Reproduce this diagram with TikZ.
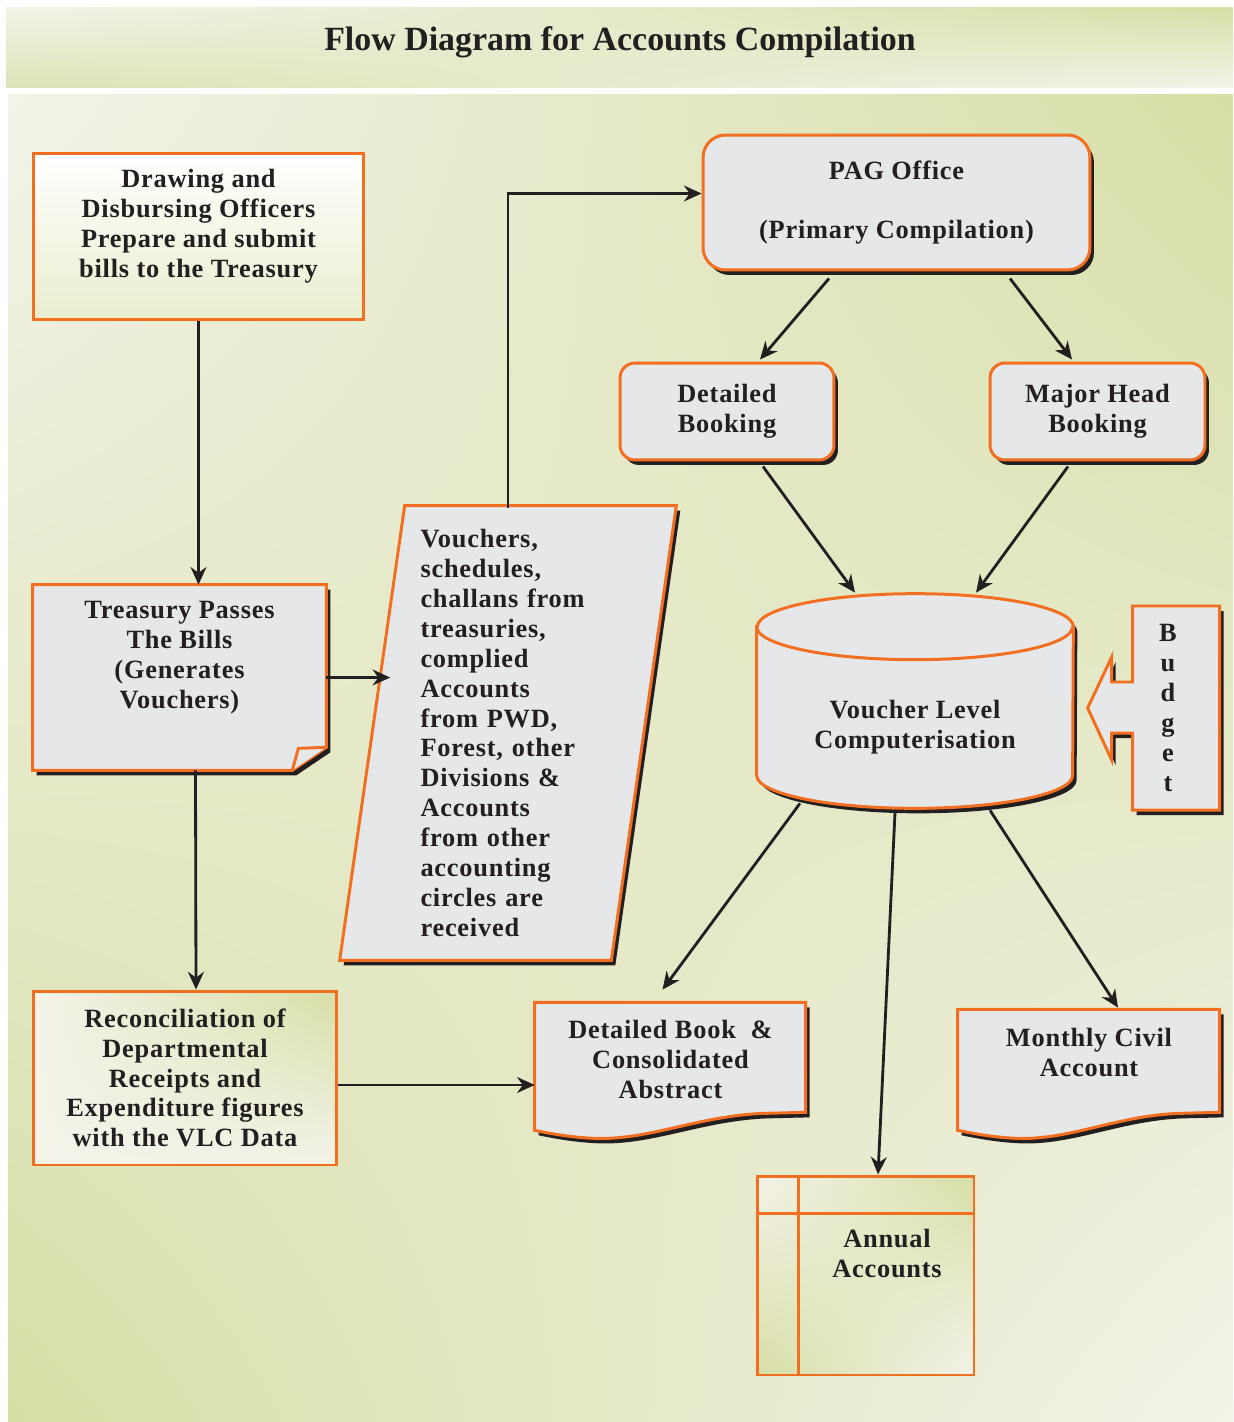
\documentclass[tikz,border=0pt]{standalone}
\usepackage{fontspec}
\setmainfont{Liberation Serif}
\newfontfamily\boxfont{Liberation Serif}[LetterSpace=3]
\usetikzlibrary{arrows.meta,calc,shadows,shadings,positioning}

\definecolor{orng}{HTML}{F26F22}
\definecolor{boxgray}{HTML}{E6E7E8}
\definecolor{ink}{HTML}{231F20}
\definecolor{cream}{HTML}{F3F3E9}
\definecolor{sage}{HTML}{D7DFA6}

\pgfdeclarelayer{panel}
\pgfdeclarelayer{shapes}
\pgfsetlayers{panel,shapes,main}

\begin{document}
\begin{tikzpicture}[x=0.02cm,y=-0.02cm,>={Stealth[length=10pt,width=9pt]},
  every node/.style={font=\boxfont\bfseries\fontsize{15}{17}\selectfont,text=ink,align=center},
  wh/.style 2 args={minimum width=#1cm,minimum height=#2cm,inner sep=2pt},
  shadowed/.style={drop shadow={shadow xshift=0.08cm,shadow yshift=-0.1cm,fill=ink,opacity=1}},
  box/.style={draw=orng,line width=1.7pt,fill=boxgray,shadowed},
  pane/.style={draw=orng,line width=1.7pt},
  ghost/.style={draw=none,fill=none},
  flow/.style={->,draw=ink,line width=1.6pt}]

  \useasboundingbox (0,0) rectangle (1233,1422);

  % backdrop
  \begin{pgfonlayer}{panel}
    \fill[white] (0,0) rectangle (1233,1422);
    \shade[upper left=cream,upper right=sage,lower left=sage!80!cream,lower right=cream] (6,8) rectangle (1233,88);
    \shade[upper left=cream,upper right=sage,lower left=sage,lower right=cream] (8,95) rectangle (1233,1422);
  \end{pgfonlayer}

  \node[font=\bfseries\fontsize{19.3}{22}\selectfont] (title) at (620,42) {Flow Diagram for Accounts Compilation};

  % left column
  \node[pane,top color=white,bottom color=sage!55!white,wh={6.62}{3.34},text depth=15pt] (dd) at (198.5,236.5)
    {Drawing and\\Disbursing Officers\\Prepare and submit\\bills to the Treasury};
  \node[ghost,wh={5.86}{3.7},text depth=26pt] (treas) at (179.5,677.5)
    {Treasury Passes\\The Bills\\(Generates\\Vouchers)};
  \node[pane,upper left=cream,upper right=sage,lower left=cream,lower right=cream,wh={6.08}{3.48}] (recon) at (185,1078)
    {Reconciliation of\\Departmental\\Receipts and\\Expenditure figures\\with the VLC Data};

  % middle
  \node[ghost,wh={5.42}{9},text width=3.5cm,align=left] (vouch) at (508,733)
    {Vouchers,\\schedules,\\challans from\\treasuries,\\complied\\Accounts\\from PWD,\\Forest, other\\Divisions \&\\Accounts\\from other\\accounting\\circles are\\received};

  % right column
  \node[box,rounded corners=0.45cm,wh={7.74}{2.7}] (pag) at (896.5,202.5) {PAG Office\\[17pt](Primary Compilation)};
  \node[box,rounded corners=0.3cm,wh={4.28}{1.94}] (db) at (727,411.5) {Detailed\\Booking};
  \node[box,rounded corners=0.3cm,wh={4.3}{1.94}] (mh) at (1097.5,411.5) {Major Head\\Booking};
  \node[ghost,wh={6.32}{4.3},text height=58pt] (vlc) at (915,700.5) {Voucher Level\\Computerisation};
  \node[ghost,wh={1.74}{4.08}] (bud) at (1168,708) {B\\u\\d\\g\\e\\t};
  \node[ghost,wh={5.42}{2.72},text depth=12.5pt] (dbook) at (670.5,1070) {Detailed Book \ \&\\Consolidated\\Abstract};
  \node[ghost,wh={5.24}{2.58},text depth=24pt] (mca) at (1089,1073.5) {Monthly Civil\\Account};
  \node[pane,upper left=cream,upper right=sage,lower left=sage,lower right=cream,wh={4.34}{3.98},text depth=25pt] (annual) at (865.5,1275.5)
    {\hspace*{0.86cm}Annual\\\hspace*{0.86cm}Accounts};
  \draw[pane] ($(annual.north west)+(43,0)$) -- ($(annual.south west)+(43,0)$)
    ($(annual.north west)+(0,39)$) -- ($(annual.north east)+(0,39)$);

  % outlines behind the texts
  \begin{pgfonlayer}{shapes}
    \draw[box] (treas.north west) -- (treas.north east) -- ($(treas.south east)+(0,-23)$)
      -- ($(treas.south east)+(-34,0)$) -- (treas.south west) -- cycle;
    \draw[pane,fill=boxgray] ($(treas.south east)+(-34,0)$) -- ($(treas.south east)+(-28,-22)$) -- ($(treas.south east)+(0,-23)$);
    \draw[box] ($(vouch.north west)+(32.5,-2)$) -- ($(vouch.north east)+(32.5,-2)$)
      -- ($(vouch.south east)+(-32.5,2)$) -- ($(vouch.south west)+(-32.5,2)$) -- cycle;
    \draw[box] ($(vlc.north west)+(0,34)$) -- ($(vlc.south west)+(0,-33)$)
      arc[start angle=180,end angle=360,x radius=3.16cm,y radius=0.66cm]
      -- ($(vlc.north east)+(0,34)$)
      arc[start angle=0,end angle=180,x radius=3.16cm,y radius=0.66cm] -- cycle;
    \draw[pane] ($(vlc.north west)+(0,34)$) arc[start angle=180,end angle=360,x radius=3.16cm,y radius=0.66cm];
    \draw[box] ($(bud.west)+(8.5,-102)$) -- ($(bud.west)+(95.5,-102)$) -- ($(bud.west)+(95.5,102)$)
      -- ($(bud.west)+(8.5,102)$) -- ($(bud.west)+(8.5,25)$) -- ($(bud.west)+(-12.5,25)$)
      -- ($(bud.west)+(-12.5,52)$) -- ($(bud.west)+(-36.5,0)$) -- ($(bud.west)+(-12.5,-51)$)
      -- ($(bud.west)+(-12.5,-26)$) -- ($(bud.west)+(8.5,-26)$) -- cycle;
    \begin{scope}[shift={(dbook.south west)}]
      \draw[box] (0,-136) -- (271,-136) -- (271,-26) -- (230,-25)
        .. controls (165,-23) and (115,2) .. (60,0) .. controls (35,-1) and (15,-5) .. (0,-8) -- cycle;
    \end{scope}
    \begin{scope}[shift={(mca.south west)}]
      \draw[box] (0,-129) -- (262,-129) -- (262,-26) -- (222,-25)
        .. controls (160,-23) and (112,2) .. (59,0) .. controls (35,-1) and (15,-5) .. (0,-8) -- cycle;
    \end{scope}
  \end{pgfonlayer}

  % connectors
  \draw[flow] (dd.south) -- (dd.south |- treas.north);
  \draw[flow] ($(treas.south)+(16,0)$) -- ($(recon.north)+(11,0)$);
  \draw[flow] (treas.east) -- ($(vouch.west |- treas.east)+(18,0)$);
  \draw[flow] (vouch.north) |- ($(pag.west)+(0,-9)$);
  \draw[flow] ($(recon.east)+(0,7)$) -- ($(recon.east -| dbook.west)+(0,7)$);
  \draw[flow] ($(pag.south)+(-67.5,7)$) -- ($(db.north)+(33,-2)$);
  \draw[flow] ($(pag.south)+(113.5,7)$) -- ($(mh.north)+(-25.5,-2)$);
  \draw[flow] ($(db.south)+(36,5)$) -- ($(vlc.north)+(-60,0)$);
  \draw[flow] ($(mh.south)+(-29.5,5)$) -- ($(vlc.north)+(61,0)$);
  \draw[flow] ($(vlc.south)+(-115,-5)$) -- ($(dbook.north)+(-8,-12)$);
  \draw[flow] ($(vlc.south)+(-20,4)$) -- ($(annual.north)+(12.5,0)$);
  \draw[flow] ($(vlc.south)+(75,2)$) -- ($(mca.north)+(29,-1)$);
\end{tikzpicture}
\end{document}
